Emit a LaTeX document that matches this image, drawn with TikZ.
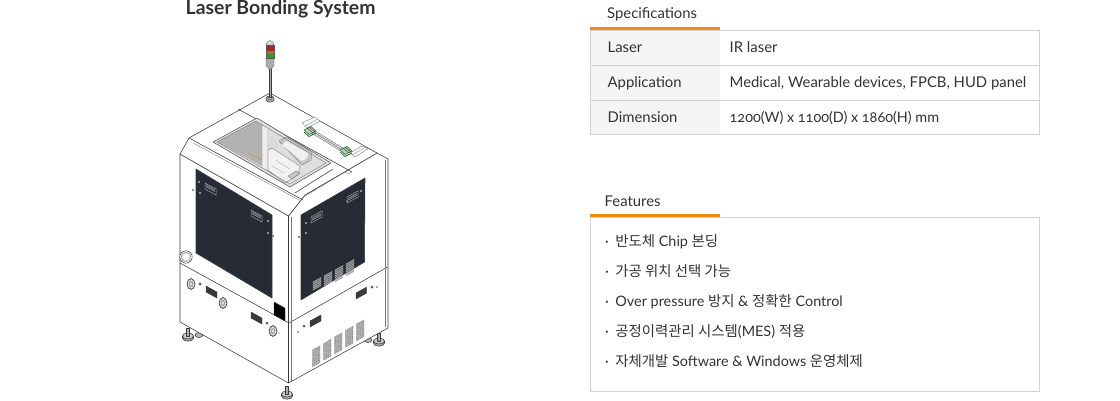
\documentclass[tikz,border=0pt]{standalone}
\usepackage{fontspec}
\setmainfont{Lato}
\newfontfamily\krfont{Noto Sans CJK KR}
\definecolor{txt}{HTML}{333333}
\definecolor{rule}{HTML}{D2D2D2}
\definecolor{org}{HTML}{EE8A0C}
\definecolor{cellbg}{HTML}{F5F5F5}
\definecolor{panel}{HTML}{262B36}
\definecolor{ln}{HTML}{3A3A3A}
\definecolor{grn}{HTML}{2F8A3C}
\tikzset{
 x=1pt,y=-1pt,
 lbl/.style={anchor=base west,inner sep=0,text=txt,font=\fontsize{14.85}{16}\selectfont},
 feat/.style={anchor=base west,inner sep=0,text=txt,font=\fontsize{14.4}{16}\selectfont},
 mach/.style={draw=ln,line width=.55pt,line join=round},
 fine/.style={draw=ln!70,line width=.35pt},
 portbox/.style={draw=ln,fill=ln,line width=.4pt},
}
\newcommand{\krs}[1]{{\krfont #1}}
% parallelograms on the two faces: x, y, width, height
\newcommand{\lbox}[5][]{\path[#1] (#2,#3) -- (#2+#4,#3+.55*#4) -- (#2+#4,#3+.55*#4+#5) -- (#2,#3+#5) -- cycle;}
\newcommand{\rbox}[5][]{\path[#1] (#2,#3) -- (#2+#4,#3-.55*#4) -- (#2+#4,#3-.55*#4+#5) -- (#2,#3+#5) -- cycle;}
% louvre column on the right face: x, y of top-left, width, rows, pitch, colour
\newcommand{\louvre}[6]{\foreach \k in {0,...,#4}{\rbox[draw=#6,fill=white,line width=.3pt]{#1}{#2+\k*#5}{#3}{1.1}}}
\newcommand{\fan}[2]{\draw[mach,fill=gray!70] (#1,#2) ellipse[x radius=4,y radius=5.5]; \draw[draw=white,line width=.6pt,dash pattern=on 2pt off 1pt] (#1,#2) ellipse[x radius=2.8,y radius=4]; \fill[gray!20] (#1,#2) ellipse[x radius=1.2,y radius=1.7];}
\begin{document}
\begin{tikzpicture}
\useasboundingbox (0,0) rectangle (1120,400);
\fill[white] (0,0) rectangle (1120,400);
\node[anchor=base west,inner sep=0,text=txt,font=\bfseries\fontsize{19.4}{22}\selectfont] (title) at (185.5,14) {Laser Bonding System};
% --- tables
\fill[cellbg] (590,30) rectangle (720,135);
\draw[rule] (590.5,30.5) -- (1039.5,30.5) -- (1039.5,134.5) -- (590.5,134.5) -- cycle;
\draw[rule] (590,65.5) -- (1040,65.5) (590,100.5) -- (1040,100.5);
\fill[org] (590,27) rectangle (720,30);
\node[lbl] (h1) at (607,18) {Specifications};
\node[lbl] (a1) at (607.5,52) {Laser};
\node[lbl] (a2) at (607.5,87) {Application};
\node[lbl] (a3) at (607.5,122) {Dimension};
\node[lbl] (b1) at (729.5,52) {IR laser};
\node[lbl] (b2) at (729.5,87) {Medical, Wearable devices, FPCB, HUD panel};
\node[lbl] (b3) at (729.5,122) {\fontsize{14.4}{16}\selectfont\addfontfeatures{Numbers=OldStyle}1200(W) x 1100(D) x 1860(H) mm};
\draw[rule] (590.5,217.5) rectangle (1039.5,391.5);
\fill[org] (590,214) rectangle (720,217);
\node[lbl] (h2) at (604.5,206) {Features};
\node[feat] (f1) at (605,246) {·\hspace{6.5pt}\krs{반도체} Chip \krs{본딩}};
\node[feat] (f2) at (605,276) {·\hspace{6.5pt}\krs{가공 위치 선택 가능}};
\node[feat] (f3) at (605,306) {·\hspace{6.5pt}Over pressure \krs{방지} \& \krs{정확한} Control};
\node[feat] (f4) at (605,336) {·\hspace{6.5pt}\krs{공정이력관리 시스템}(MES) \krs{적용}};
\node[feat] (f5) at (605,366) {·\hspace{6.5pt}\krs{자체개발} Software \& Windows \krs{운영체제}};
% --- feet
\draw[mach,fill=gray!60] (199,335) ellipse[x radius=4,y radius=2.5];
\draw[mach,fill=gray!60] (368,340) ellipse[x radius=4,y radius=2.5];
\foreach \x/\y in {188/336,287/394,379/341}{
 \draw[mach,fill=gray!70] (\x-5.5,\y) -- (\x-5.5,\y+2) arc[start angle=180,end angle=0,x radius=5.5,y radius=3.2] -- (\x+5.5,\y) -- cycle;
 \draw[mach,fill=gray!40] (\x,\y) ellipse[x radius=5.5,y radius=3];
 \draw[mach,fill=gray!65] (\x-1.5,\y-8) rectangle (\x+1.5,\y);
}
% --- body faces
\draw[mach,fill=white] (180,154) -- (288.5,216) -- (288.5,383) -- (180,322) -- cycle;
\draw[mach,fill=white] (288.5,216) -- (305,195) -- (377,153) -- (388,159) -- (388,328) -- (288.5,383) -- cycle;
\draw[mach] (180,263) -- (289,323) -- (387.5,267);
\draw[fine] (291,217) -- (291,381);
\draw[fine] (385.5,160) -- (385.5,327);
% --- top surface
\draw[mach,fill=white] (180,154) -- (189,138) -- (270,93) -- (377,153) -- (305,195) -- (288.5,216) -- cycle;
\draw[mach] (189,138) -- (303,200);
\draw[fine] (193,143) -- (301,201);
\draw[mach] (238,109) -- (352,172);
\draw[fine] (352,172) -- (349,174) -- (345,172);
\draw[mach] (295,193) -- (333,169);
\draw[fine] (302,198) -- (345,172);
% --- window
\path[fill=gray!25,draw=gray!60!black,line width=.5pt,line join=round] (213,142) -- (257,118) -- (331,163) -- (290,187) -- cycle;
\path[fill=black!30] (217,142) -- (256,121) -- (262,125) -- (262,166) -- cycle;
\path[fill=black!7] (262,125) -- (268,129) -- (268,170) -- (262,166) -- cycle;
\path[fill=black!13] (268,129) -- (326,163) -- (290,184) -- (268,170) -- cycle;
\draw[fine,fill=black!22] (279,141) -- (286,137) -- (312,152) -- (311,160) -- (302,165) -- cycle;
\path[fill=black!6] (282,145) -- (286,141) -- (308,153) -- (307,158) -- (302,161) -- cycle;
\draw[fine,fill=black!5] (268,150) -- (272,148) -- (300,166) -- (298,175) -- (285,183) -- (268,170) -- cycle;
\draw[fine,fill=black!22] (288,176) -- (296,171) -- (300,173) -- (292,179) -- cycle;
\draw[draw=gray!70,line width=.3pt] (275,160) -- (290,169) (272,166) -- (284,173) (272,136) -- (272,150) (276,139) -- (276,148);
\draw[fine] (262,125) -- (262,166) (268,129) -- (268,170) (217,142) -- (256,121) -- (326,163) -- (290,184) -- cycle;
\draw[draw=orange!50!gray,line width=.4pt] (248,153) -- (262,160);
% --- rail module on the top
\draw[fine,fill=white] (302,123) -- (315,117) -- (320,121) -- (307,128) -- cycle;
\draw[fine,fill=white] (350,153) -- (362,146) -- (368,149) -- (355,157) -- cycle;
\draw[fine] (305,126) -- (317,119.5) (352,155) -- (365,147.5);
\draw[draw=gray!70,line width=1.5pt] (310,130) -- (346,152);
\draw[draw=ln,line width=.3pt] (311,128.5) -- (347,150.5) (309,131.5) -- (345,153.5);
\foreach \x/\y in {310/131,346/151}{
 \draw[draw=grn,fill=gray!45,line width=.7pt,line join=round] (\x-6,\y-1) -- (\x+1,\y-4.5) -- (\x+6,\y) -- (\x-1,\y+3.5) -- cycle;
 \draw[draw=ln,line width=.4pt] (\x-3,\y-3) -- (\x+3,\y+2) (\x-1,\y-4) -- (\x+5,\y+1);
 \draw[draw=grn!70!black,line width=.7pt] (\x-6,\y+1) -- (\x-1,\y+5.5) -- (\x+6,\y+2);
}
% --- signal tower
\draw[mach,fill=gray!60] (270,99) ellipse[x radius=4.2,y radius=3.2];
\draw[mach,fill=gray!30] (270,98.3) ellipse[x radius=2.2,y radius=1.6];
\draw[draw=ln,fill=gray!65,line width=.3pt] (269,68) rectangle (271,97);
\draw[draw=gray!80!black,line width=.3pt,fill=gray!65] (266,58) -- (274,58) -- (274,66) -- (271,69) -- (269,69) -- (266,66) -- cycle;
\draw[draw=gray!70!black,line width=.3pt,fill=gray!30] (266,45) arc[start angle=180,end angle=360,x radius=4,y radius=4.5] -- cycle;
\fill[red!60!gray!80!black] (266,45) rectangle (274,51);
\fill[orange!60!gray!85!black] (266,50.5) rectangle (274,54.5);
\fill[green!45!gray!80!black] (266,54) rectangle (274,58);
\draw[draw=gray!70!black,line width=.3pt] (266,45) rectangle (274,58);
% --- dark panels
\draw[mach,fill=panel] (196,169) -- (272,215) -- (272,298) -- (196,253) -- cycle;
\draw[mach,fill=panel] (301,215) -- (365,178) -- (364.5,262) -- (301,300) -- cycle;
% ports in the panels
\foreach \a/\b in {205/183,251/210}{
 \lbox[draw=gray!75,fill=panel,line width=.5pt]{\a}{\b}{11}{6}
 \lbox[draw=gray!60,fill=gray!50!panel,line width=.3pt]{\a+1.5}{\b+2}{8}{2}
}
\foreach \a/\b in {311/217,347/197}{
 \rbox[draw=gray!75,fill=panel,line width=.5pt]{\a}{\b}{11}{6}
 \rbox[draw=gray!60,fill=gray!50!panel,line width=.3pt]{\a+1.5}{\b+1}{8}{2}
}
\foreach \a/\b in {199/182,200/193,268/221,268/233,306/223,306/233,361/191}{
 \fill[gray!60] (\a,\b) circle[radius=1.1];
}
\foreach \a/\b in {193/190,273/236,299/237,347/201}{
 \draw[draw=gray!70!black,fill=white,line width=.25pt] (\a,\b) circle[radius=.9];
}
% louvres in the right panel
\foreach \a/\b/\n in {313/281/5,324/275/6,335/269/7,346/263/7}{
 \foreach \k in {1,...,\n}{
  \rbox[draw=gray!55,fill=gray!70!panel,line width=.25pt]{\a}{\b+\k*1.85-1}{8}{.9}
 }
}
% --- lower left face
\draw[mach,fill=white] (186,257) circle[radius=6.2];
\draw[fine,fill=gray!35] (186,257) circle[radius=4.8];
\fill[white] (186,257) circle[radius=3.7];
\fan{191}{284}
\fill[gray!70!black] (200,284) circle[radius=1.6];
\lbox[portbox]{206}{286}{11}{6}
\fan{223}{303}
\lbox[portbox,fill=black]{274}{302}{11}{13}
\lbox[portbox]{251}{312}{11}{6}
\fill[gray!70!black] (267,323) circle[radius=1.5];
\fan{273}{331}
\fill[gray!70!black] (279,333) circle[radius=.7];
% --- lower right face
\fill[gray!70!black] (298,332) circle[radius=.9];
\fill[gray!70!black] (304,326) circle[radius=1.5];
\rbox[portbox]{310}{321}{11}{6}
\rbox[portbox]{356}{293}{10.5}{6}
\fill[gray!70!black] (372,287) circle[radius=1.5];
\fill[gray!70!black] (377,287) circle[radius=.9];
\louvre{312.5}{350}{7.5}{8}{1.95}{gray!75!black}
\louvre{323.5}{343.5}{7.5}{8}{1.95}{gray!75!black}
\louvre{334.5}{337}{7.5}{8}{1.95}{gray!75!black}
\louvre{345.5}{330.5}{7.5}{8}{1.95}{gray!75!black}
\louvre{356.5}{324}{7.5}{8}{1.95}{gray!75!black}
\end{tikzpicture}
\end{document}
